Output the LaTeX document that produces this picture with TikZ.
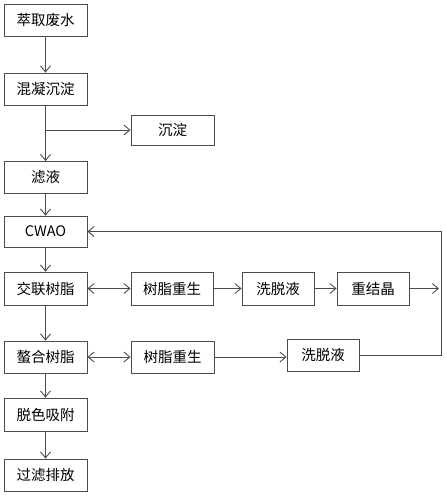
\documentclass[tikz,border=0pt]{standalone}
\usepackage{fontspec}
\setmainfont{Noto Sans CJK SC}
\usetikzlibrary{arrows.meta,positioning}

\begin{document}
\begin{tikzpicture}[
    x=1pt, y=-1pt,
    block/.style={draw=black!70, fill=white, rectangle, line width=0.9pt, minimum width=83pt, minimum height=32pt, font=\fontsize{14.5}{16}\selectfont, inner sep=2pt},
    small/.style={block, minimum width=72pt},
    arrow/.style={->, >={Straight Barb[length=6pt,width=10pt]}, line width=0.9pt, draw=black!70},
    both/.style={arrow, <->}
]
\useasboundingbox (0,0) rectangle (447,496);

% Main column
\node[block] (extract) at (45.5,20) {萃取废水};
\node[block] (coag) at (45.5,89) {混凝沉淀};
\node[block, minimum height=30pt] (precip) at (172.5,130) {沉淀};
\node[block] (filtrate) at (45.5,177.5) {滤液};
\node[block, minimum height=31pt] (cwao) at (45.5,231.5) {CWAO};
\node[block, minimum height=33pt] (ionex) at (45.5,288.5) {交联树脂};
\node[block] (chel) at (45.5,357) {螯合树脂};
\node[block, minimum height=33pt] (decolor) at (45.5,414.5) {脱色吸附};
\node[block] (discharge) at (45.5,475) {过滤排放};

% Regeneration branches
\node[block, minimum width=82pt, minimum height=33pt] (regen1) at (172,288.5) {树脂重生};
\node[small, minimum height=33pt] (elute1) at (278,288.5) {洗脱液};
\node[small, minimum height=33pt] (recryst) at (373,288.5) {重结晶};
\node[block] (regen2) at (172.5,357) {树脂重生};
\node[small] (elute2) at (323,355) {洗脱液};

% Loop corner
\coordinate (looptop) at (441,231.5);

% Arrows
\draw[arrow] (extract) -- (coag);
\draw[arrow] (coag) -- (filtrate);
\draw[arrow] (coag.south |- precip.west) -- (precip);
\draw[arrow] (filtrate) -- (cwao);
\draw[arrow] (cwao) -- (ionex);
\draw[arrow] (ionex) -- (chel);
\draw[arrow] (chel) -- (decolor);
\draw[arrow] (decolor) -- (discharge);

\draw[both] (ionex) -- (regen1);
\draw[arrow] (regen1) -- (elute1);
\draw[arrow] (elute1) -- (recryst);
\draw[arrow, shorten >=2pt] (recryst) -- (recryst -| looptop);
\draw[both] (chel) -- (regen2);
\draw[arrow] (regen2) -- (regen2 -| elute2.west);

% Return to CWAO
\draw[arrow] (elute2.east) -- (elute2.east -| looptop) -- (looptop) -- (cwao);
\end{tikzpicture}
\end{document}
